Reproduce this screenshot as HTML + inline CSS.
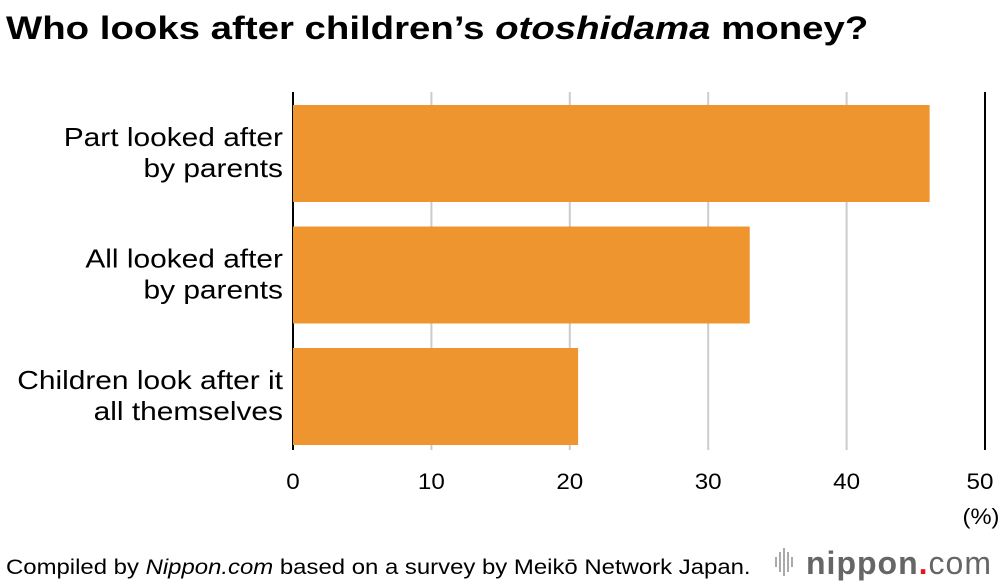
<!DOCTYPE html>
<html><head><meta charset="utf-8"><style>
body{margin:0;width:1000px;height:584px;background:#fff;overflow:hidden;font-family:"Liberation Sans",sans-serif;}
svg{display:block}
</style></head><body>
<svg id="chart" width="1000" height="584">
<text x="6" y="39" font-size="32" font-weight="bold" fill="#000" transform="translate(6,0) scale(1.2,1) translate(-6,0)">Who looks after children’s <tspan font-style="italic">otoshidama</tspan> money?</text>
<g id="grid"></g><g id="bars"></g><g id="labels" transform="translate(283,0) scale(1.15,1) translate(-283,0)"></g><g id="ticks"></g>
<text x="981" y="524" font-size="22" text-anchor="middle" fill="#000" transform="translate(981,0) scale(1.08,1) translate(-981,0)">(%)</text>
<text x="6" y="574" font-size="21" fill="#000" transform="translate(6,0) scale(1.14,1) translate(-6,0)">Compiled by <tspan font-style="italic">Nippon.com</tspan> based on a survey by Meikō Network Japan.</text>
<g>
<g fill="#aaa"><rect x="775" y="557" width="2" height="10"/><rect x="779" y="552" width="2" height="20"/><rect x="783" y="548" width="2" height="28"/><rect x="787" y="552" width="2" height="20"/><rect x="791" y="557" width="2" height="10"/></g>
<text x="806" y="574" font-size="32" font-weight="bold" fill="#666" letter-spacing="1">nippon<tspan fill="#e8141d">.</tspan><tspan font-weight="normal">com</tspan></text>
</g>
</svg>
<script>
const categories=[["Part looked after","by parents"],["All looked after","by parents"],["Children look after it","all themselves"]];
const values=[46,33,20.6];
const tickValues=[0,10,20,30,40,50];
const ns="http://www.w3.org/2000/svg";
const x0=293,pxPer=13.84,bandTop=105,bandStep=121.5,barH=97;
const xs=v=>x0+v*pxPer;
function mk(t,a,p){const e=document.createElementNS(ns,t);for(const k in a)e.setAttribute(k,a[k]);document.getElementById(p).appendChild(e);return e;}
tickValues.forEach((t,i)=>{
 if(t>0){const l=mk('line',{x1:xs(t),x2:xs(t),y1:92,y2:450,stroke:t===50?'#000':'#ccc','stroke-width':2},'grid');
 
 }
 const cx=xs(t)-(t===50?5:0);
 const tx=mk('text',{x:cx,y:489,'font-size':22,'text-anchor':'middle',fill:'#000',transform:`translate(${cx},0) scale(1.1,1) translate(${-cx},0)`},'ticks');tx.textContent=t;
 
 
});
values.forEach((v,i)=>{
 const y=bandTop+i*bandStep;
 const r=mk('rect',{x:x0,y:y,width:xs(v)-x0,height:barH,fill:'#ef952f'},'bars');
 
 
 categories[i].forEach((s,j)=>{
  const t=mk('text',{x:283,y:y+41+j*31,'font-size':26,'text-anchor':'end',fill:'#000'},'labels');t.textContent=s;
  
  
 });
});
const ax=mk('line',{x1:x0,x2:x0,y1:92,y2:450,stroke:'#000','stroke-width':2},'grid');


</script>
</body></html>
